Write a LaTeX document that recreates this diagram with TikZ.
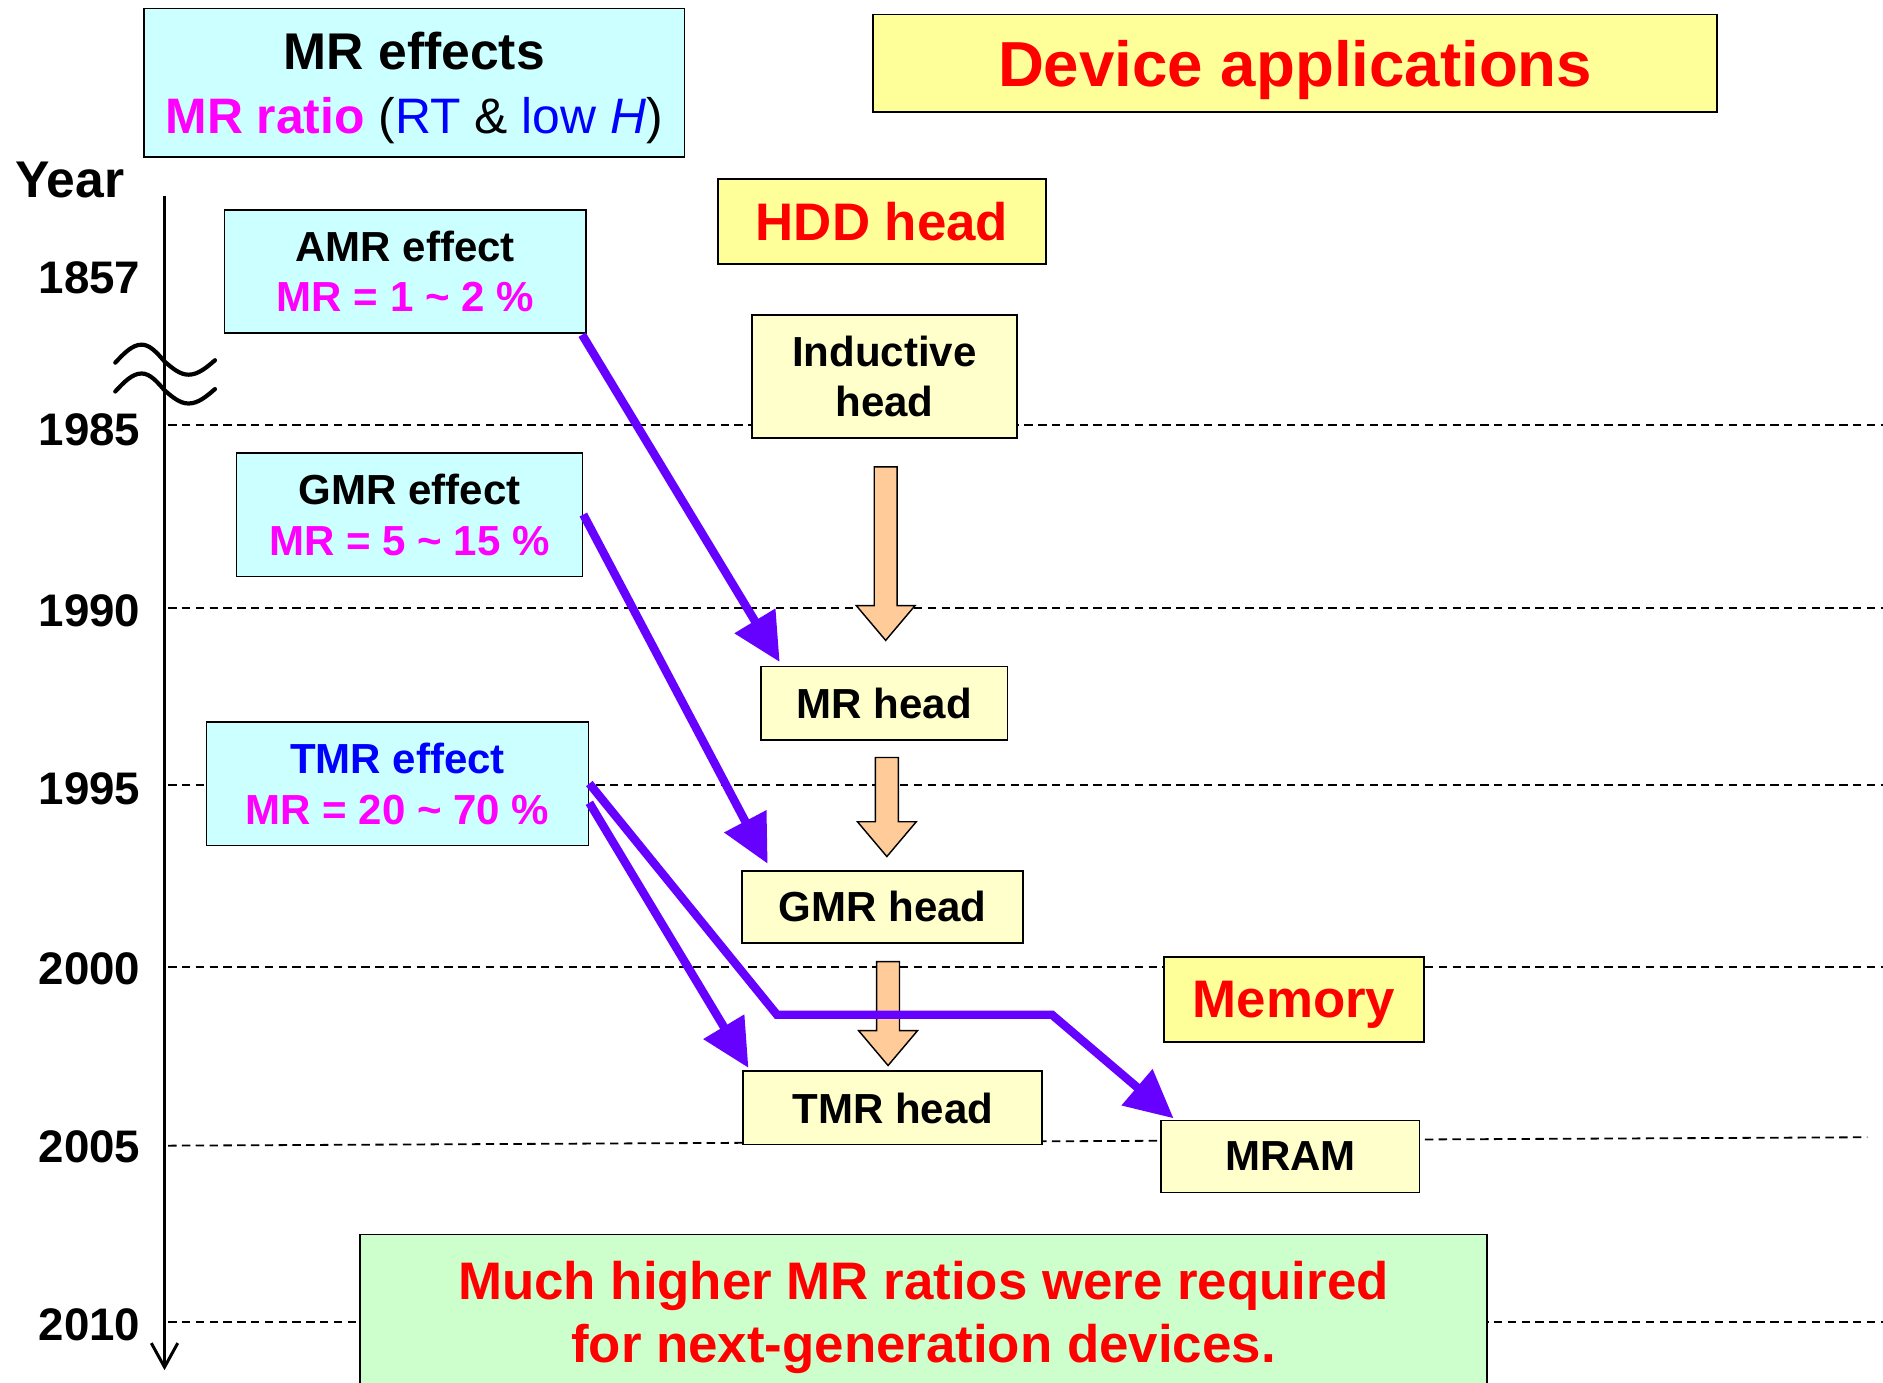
\documentclass[tikz,border=0pt]{standalone}
\usepackage{fontspec}
\setmainfont{Liberation Sans}
\usetikzlibrary{arrows.meta,calc}
\definecolor{cyanF}{HTML}{CCFFFF}
\definecolor{yelF}{HTML}{FFFF99}
\definecolor{ltyelF}{HTML}{FFFFCC}
\definecolor{greenF}{HTML}{CCFFCC}
\definecolor{magT}{HTML}{FF00FF}
\definecolor{bluT}{HTML}{0000FF}
\definecolor{redT}{HTML}{FF0000}
\definecolor{purA}{HTML}{6600FF}
\definecolor{orA}{HTML}{FFCC99}
\newcommand\tld{\textasciitilde{}}
\newcommand\blockarrow[2]{%
  \draw[barrow] let \p1=(#1), \p2=(#2) in
    (\x1-9.5pt,\y1) -- (\x1+9.5pt,\y1) -- (\x1+9.5pt,\y2+29pt) -- (\x1+24.5pt,\y2+29pt)
    -- (\x1,\y2) -- (\x1-24.5pt,\y2+29pt) -- (\x1-9.5pt,\y2+29pt) -- cycle;}
\begin{document}
\begin{tikzpicture}[x=1pt,y=-1pt,
  box/.style={draw=black, line width=1.5pt, inner sep=0pt, align=center, text depth=0pt,
    font=\fontsize{35}{42}\selectfont\bfseries},
  effbox/.style={box, fill=cyanF},
  headbox/.style={box, fill=ltyelF},
  titlebox/.style={box, fill=yelF, text=redT, font=\fontsize{44}{53}\selectfont\bfseries},
  yearlbl/.style={anchor=east, inner sep=0pt, font=\fontsize{38}{44}\selectfont\bfseries},
  grid/.style={line width=1.5pt, dash pattern=on 7pt off 4.5pt},
  barrow/.style={draw=black, line width=1.2pt, fill=orA, line join=miter},
  parr/.style={draw=purA, line width=7pt, -{Triangle[length=40pt,width=38pt]}, line join=miter},
  wave/.style={line width=3.5pt, line cap=round}
]
\useasboundingbox (0,0) rectangle (1568,1151);
% gridlines
\foreach \yy in {354,506,654,805,1101}
  \draw[grid] (140,\yy) -- (1568,\yy);
\draw[grid] (140,954) -- (1555,947);
% title boxes
\node[effbox, minimum width=450pt, minimum height=124pt, font=\fontsize{43}{53}\selectfont] (mre) at (345,69)
  {\textbf{MR effects}\\{\fontsize{41.5}{53}\selectfont\textcolor{magT}{\textbf{MR ratio}} (\textcolor{bluT}{RT} \& \textcolor{bluT}{low \textit{H}})}};
\node[titlebox, minimum width=703pt, minimum height=81pt, font=\fontsize{53}{60}\selectfont\bfseries] (dev) at (1078.5,52.5) {Device applications};
\node[anchor=center, inner sep=0pt, font=\fontsize{43}{50}\selectfont\bfseries] (year) at (58,150) {Year};
% year labels
\node[yearlbl] (y1857) at (117,231) {1857};
\node[yearlbl] (y1985) at (117,358) {1985};
\node[yearlbl] (y1990) at (117,509) {1990};
\node[yearlbl] (y1995) at (117,657) {1995};
\node[yearlbl] (y2000) at (117,807) {2000};
\node[yearlbl] (y2005) at (117,955) {2005};
\node[yearlbl] (y2010) at (117,1103) {2010};
% effect boxes
\node[effbox, minimum width=301pt, minimum height=102pt] (amr) at (337.5,226)
  {AMR effect\\\textcolor{magT}{MR = 1 \tld\ 2 \%}};
\node[effbox, minimum width=288pt, minimum height=103pt] (gmr) at (341,428.5)
  {GMR effect\\\textcolor{magT}{MR = 5 \tld\ 15 \%}};
\node[effbox, minimum width=318pt, minimum height=103pt] (tmr) at (331,652.5)
  {\textcolor{bluT}{TMR effect}\\\textcolor{magT}{MR = 20 \tld\ 70 \%}};
% device boxes
\node[titlebox, minimum width=273pt, minimum height=71pt] (hdd) at (734.5,184.5) {HDD head};
\node[headbox, minimum width=221pt, minimum height=103pt] (ind) at (736.5,313.5) {Inductive\\head};
\node[headbox, minimum width=205pt, minimum height=61pt] (mrh) at (736.5,585.5) {MR head};
\node[headbox, minimum width=234pt, minimum height=60pt] (gmrh) at (735,755) {GMR head};
\node[headbox, minimum width=249pt, minimum height=61pt] (tmrh) at (743.5,922.5) {TMR head};
\node[titlebox, minimum width=217pt, minimum height=71pt] (mem) at (1077.5,832.5) {Memory};
\node[headbox, minimum width=215pt, minimum height=60pt] (mram) at (1074.5,963) {MRAM};
\node[box, fill=greenF, text=redT, minimum width=938pt, minimum height=129pt,
  font=\fontsize{44}{53}\selectfont\bfseries] (note) at (769,1092.5)
  {Much higher MR ratios were required\\for next-generation devices.};
% time axis
\coordinate (axtop) at (137,163);
\coordinate (axbot) at (137,1141);
\draw[line width=2.5pt, -{Straight Barb[length=20pt,width=22pt,line width=2.5pt]}] (axtop) -- (axbot);
% axis break
\draw[wave] (96,302) sin (118,287) cos (137,301) sin (157,312) cos (179,300);
\draw[wave] (96,326) sin (118,311) cos (137,325) sin (157,336) cos (179,324);
% orange block arrows
\coordinate (o1a) at ($(ind.south)+(1,23)$);
\coordinate (o1b) at ($(mrh.north)+(1,-21)$);
\coordinate (o2a) at ($(mrh.south)+(2,14)$);
\coordinate (o2b) at ($(gmrh.north)+(3.5,-11)$);
\coordinate (o3a) at ($(gmrh.south)+(4.5,15)$);
\coordinate (o3b) at ($(tmrh.north)+(-4,-4)$);
\blockarrow{o1a}{o1b}
\blockarrow{o2a}{o2b}
\blockarrow{o3a}{o3b}
% purple arrows
\coordinate (k1) at (647,845);
\coordinate (k2) at (876,845);
\draw[parr] ($(amr.south east)+(-4,1)$) -- ($(mrh.north west)+(16,-3)$);
\draw[parr] (gmr.east) -- ($(gmrh.north west)+(22,-5)$);
\draw[parr] ($(tmr.east)+(0,16)$) -- ($(tmrh.north west)+(5,-2)$);
\draw[parr] (tmr.east) -- (k1) -- (k2) -- ($(mram.north west)+(11,-1)$);
\end{tikzpicture}
\end{document}
